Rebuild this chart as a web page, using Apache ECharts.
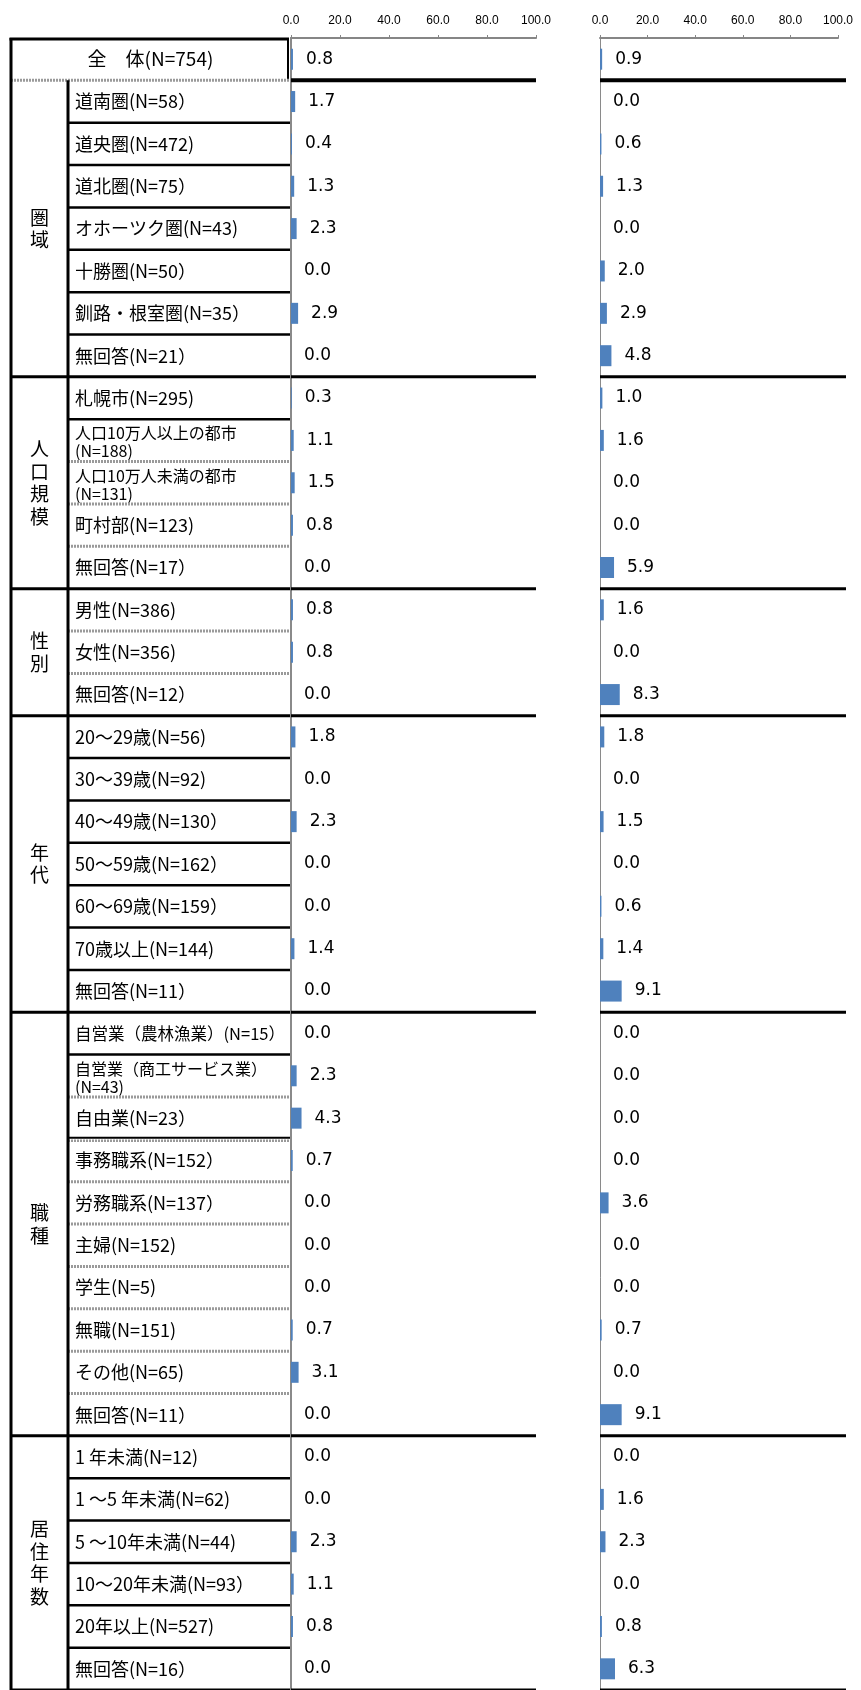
<!DOCTYPE html>
<html><head><meta charset="utf-8">
<script src="https://cdn.jsdelivr.net/npm/echarts@6/dist/echarts.min.js"></script>
<style>html,body{margin:0;padding:0;background:#fff}#c{width:861px;height:1690px}</style>
</head><body><div id="c"></div>
<script>
// ---------------- data ----------------
const rowLabels = [
  '全　体(N=754)',
  '道南圏(N=58）', '道央圏(N=472)', '道北圏(N=75）', 'オホーツク圏(N=43)', '十勝圏(N=50）', '釧路・根室圏(N=35）', '無回答(N=21）',
  '札幌市(N=295)', '人口10万人以上の都市\n(N=188)', '人口10万人未満の都市\n(N=131)', '町村部(N=123)', '無回答(N=17）',
  '男性(N=386)', '女性(N=356)', '無回答(N=12）',
  '20～29歳(N=56)', '30～39歳(N=92)', '40～49歳(N=130）', '50～59歳(N=162）', '60～69歳(N=159）', '70歳以上(N=144)', '無回答(N=11）',
  '自営業（農林漁業）(N=15）', '自営業（商工サービス業）\n(N=43)', '自由業(N=23）', '事務職系(N=152）', '労務職系(N=137）', '主婦(N=152)', '学生(N=5)', '無職(N=151)', 'その他(N=65)', '無回答(N=11）',
  '1 年未満(N=12)', '1 ～5 年未満(N=62)', '5 ～10年未満(N=44)', '10～20年未満(N=93）', '20年以上(N=527)', '無回答(N=16）'
];
const groupNames = ['圏域', '人口規模', '性別', '年代', '職種', '居住年数'];
const groupFirstRow = [1, 8, 13, 16, 23, 33];
const groupLastRow = [7, 12, 15, 22, 32, 38];
const valuesLeft = [
  0.8,
  1.7, 0.4, 1.3, 2.3, 0.0, 2.9, 0.0,
  0.3, 1.1, 1.5, 0.8, 0.0,
  0.8, 0.8, 0.0,
  1.8, 0.0, 2.3, 0.0, 0.0, 1.4, 0.0,
  0.0, 2.3, 4.3, 0.7, 0.0, 0.0, 0.0, 0.7, 3.1, 0.0,
  0.0, 0.0, 2.3, 1.1, 0.8, 0.0
];
const valuesRight = [
  0.9,
  0.0, 0.6, 1.3, 0.0, 2.0, 2.9, 4.8,
  1.0, 1.6, 0.0, 0.0, 5.9,
  1.6, 0.0, 8.3,
  1.8, 0.0, 1.5, 0.0, 0.6, 1.4, 9.1,
  0.0, 0.0, 0.0, 0.0, 3.6, 0.0, 0.0, 0.7, 0.0, 9.1,
  0.0, 1.6, 2.3, 0.0, 0.8, 6.3
];
const axisMin = 0, axisMax = 100, axisStep = 20;

// ---------------- style ----------------
const TOP = 38, ROW_H = 42.5;
const GRID_H = ROW_H * rowLabels.length;
const JP = '"Noto Sans CJK JP", "Noto Sans", sans-serif';
const NUM = '"DejaVu Sans", sans-serif';
const BAR_COLOR = '#4F81BD';
// separator style under each row inside the table
const ruleAfter = ['T','B','B','B','B','B','B','X','B','G','G','G','X','G','G','X',
  'B','B','B','B','B','B','X','B','G','BG','G','G','G','G','G','G','X','B','B','B','B','B','X'];

const rowIdx = rowLabels.map((_, i) => i);
const mctx = document.createElement('canvas').getContext('2d');
function fitSize(text, base, maxW) {
  let s = base;
  const lines = text.split('\n');
  while (s > 10) {
    mctx.font = s + 'px ' + JP;
    const w = Math.max(...lines.map(l => mctx.measureText(l).width));
    if (w <= maxW) break;
    s -= 0.5;
  }
  return s;
}

function renderRow(params, api) {
  const i = api.value(1);
  const cs = params.coordSys;
  const cy = api.coord([0, i])[1];
  const h = api.size([0, 1])[1];
  const yb = cy + h / 2;
  const x0 = cs.x, x1 = cs.x + cs.width - 1;
  const xIn = cs.x + 57;
  const ch = [];
  const text = rowLabels[i];
  if (i === 0) {
    ch.push({type: 'text', style: {text, x: (x0 + x1) / 2, y: cy, align: 'center', verticalAlign: 'middle',
      font: '19px ' + JP, fill: '#000'}});
    ch.push({type: 'line', shape: {x1: x1 - 2, y1: cy - h / 2, x2: x1 - 2, y2: yb}, style: {stroke: '#000', lineWidth: 2}});
  } else {
    const multi = text.indexOf('\n') >= 0;
    const base = multi ? 16 : 18;
    const size = fitSize(text, base, x1 - xIn - 10);
    ch.push({type: 'text', style: {text, x: xIn + 7, y: cy + (multi ? 2 : 0), align: 'left', verticalAlign: 'middle',
      fontSize: size, fontFamily: JP, lineHeight: multi ? 18 : size * 1.2, fill: '#000'}});
  }
  const r = ruleAfter[i];
  if (r === 'T') {
    ch.push({type: 'line', shape: {x1: x0, y1: yb, x2: x1, y2: yb}, style: {stroke: '#9a9a9a', lineWidth: 3, lineDash: [2, 1]}});
  } else if (r === 'X') {
    ch.push({type: 'line', shape: {x1: x0 - 1, y1: yb, x2: x1, y2: yb}, style: {stroke: '#000', lineWidth: 3}});
  } else if (r === 'B') {
    ch.push({type: 'line', shape: {x1: xIn, y1: yb, x2: x1, y2: yb}, style: {stroke: '#000', lineWidth: 2.5}});
  } else if (r === 'G') {
    ch.push({type: 'line', shape: {x1: xIn, y1: yb, x2: x1, y2: yb}, style: {stroke: '#9a9a9a', lineWidth: 3, lineDash: [2, 1]}});
  } else if (r === 'BG') {
    ch.push({type: 'line', shape: {x1: xIn, y1: yb - 1.5, x2: x1, y2: yb - 1.5}, style: {stroke: '#000', lineWidth: 2}});
    ch.push({type: 'line', shape: {x1: xIn, y1: yb + 1.5, x2: x1, y2: yb + 1.5}, style: {stroke: '#9a9a9a', lineWidth: 2.5, lineDash: [2, 1]}});
  }
  return {type: 'group', children: ch};
}

function renderGroup(params, api) {
  const gi = params.dataIndex;
  const cs = params.coordSys;
  const s = groupFirstRow[gi], e = groupLastRow[gi];
  const h = api.size([0, 1])[1];
  const yTop = api.coord([0, s])[1] - h / 2;
  const yBot = api.coord([0, e])[1] + h / 2;
  const xIn = cs.x + 57;
  const name = groupNames[gi];
  return {type: 'group', children: [
    {type: 'line', shape: {x1: xIn, y1: yTop, x2: xIn, y2: yBot}, style: {stroke: '#000', lineWidth: 3}},
    {type: 'text', style: {text: name.split('').join('\n'), x: (cs.x + xIn) / 2, y: (yTop + yBot) / 2,
      align: 'center', verticalAlign: 'middle', fontSize: 19, lineHeight: 22.5, fontFamily: JP, fill: '#000'}}
  ]};
}

function renderFrame(params, api) {
  const cs = params.coordSys;
  return {type: 'group', children: [
    {type: 'line', shape: {x1: cs.x, y1: cs.y, x2: cs.x, y2: cs.y + cs.height}, style: {stroke: '#000', lineWidth: 3}},
    {type: 'line', shape: {x1: cs.x - 1.5, y1: cs.y + 1, x2: cs.x + cs.width - 2, y2: cs.y + 1}, style: {stroke: '#000', lineWidth: 3}}
  ]};
}

function makeBoundary(extra) {
  return function (params, api) {
    const r = api.value(1);
    const cs = params.coordSys;
    const h = api.size([0, 1])[1];
    const yb = api.coord([0, r])[1] + h / 2;
    return {type: 'line', shape: {x1: cs.x, y1: yb, x2: cs.x + cs.width + extra, y2: yb},
      style: {stroke: '#000', lineWidth: r === 0 ? 4 : 3}};
  };
}
const boundaryRows = [0].concat(groupLastRow);

function valueAxis(idx, lw) {
  return {
    type: 'value', gridIndex: idx, position: 'top', min: axisMin, max: axisMax, interval: axisStep,
    axisLine: {show: true, lineStyle: {color: '#868686', width: lw}},
    axisTick: {show: true, length: 3, lineStyle: {color: '#868686'}},
    splitLine: {show: false},
    axisLabel: {formatter: v => v.toFixed(1), fontSize: 12, fontFamily: '"Liberation Sans", sans-serif', color: '#000', margin: 11}
  };
}
function catAxis(idx, show, lw) {
  return {
    type: 'category', gridIndex: idx, data: rowIdx, inverse: true, show: true,
    axisLine: {show: show, lineStyle: {color: '#8a8a8a', width: lw}},
    axisTick: {show: false}, axisLabel: {show: false}, splitLine: {show: false}
  };
}
function barSeries(idx, data) {
  return {
    type: 'bar', xAxisIndex: idx, yAxisIndex: idx, data: data, barWidth: 21,
    itemStyle: {color: BAR_COLOR},
    label: {show: true, position: 'right', distance: 13, formatter: p => p.value.toFixed(1),
      fontSize: 17, fontFamily: NUM, color: '#000'},
    z: 2
  };
}

const chart = echarts.init(document.getElementById('c'));
chart.setOption({
  animation: false,
  backgroundColor: '#fff',
  grid: [
    {left: 11, top: TOP, width: 280, height: GRID_H},
    {left: 291, top: TOP, width: 245, height: GRID_H},
    {left: 600, top: TOP, width: 238, height: GRID_H}
  ],
  xAxis: [
    {type: 'value', gridIndex: 0, min: 0, max: 1, show: false},
    valueAxis(1, 2),
    valueAxis(2, 2)
  ],
  yAxis: [
    {type: 'category', gridIndex: 0, data: rowIdx, inverse: true, show: false},
    catAxis(1, true, 2),
    catAxis(2, true, 1)
  ],
  series: [
    {type: 'custom', xAxisIndex: 0, yAxisIndex: 0, data: rowIdx.map(i => [0, i]), encode: {x: 0, y: 1},
      renderItem: renderRow, z: 3, silent: true},
    {type: 'custom', xAxisIndex: 0, yAxisIndex: 0, data: groupNames.map((_, g) => [0, groupFirstRow[g]]), encode: {x: 0, y: 1},
      renderItem: renderGroup, z: 4, silent: true},
    {type: 'custom', xAxisIndex: 0, yAxisIndex: 0, data: [[0, 0]], encode: {x: 0, y: 1},
      renderItem: renderFrame, z: 5, silent: true},
    {type: 'custom', xAxisIndex: 1, yAxisIndex: 1, data: boundaryRows.map(r => [0, r]), encode: {x: 0, y: 1},
      renderItem: makeBoundary(0), z: 3, silent: true},
    {type: 'custom', xAxisIndex: 2, yAxisIndex: 2, data: boundaryRows.map(r => [0, r]), encode: {x: 0, y: 1},
      renderItem: makeBoundary(8), z: 3, silent: true},
    barSeries(1, valuesLeft),
    barSeries(2, valuesRight)
  ]
});
</script>
</body></html>
